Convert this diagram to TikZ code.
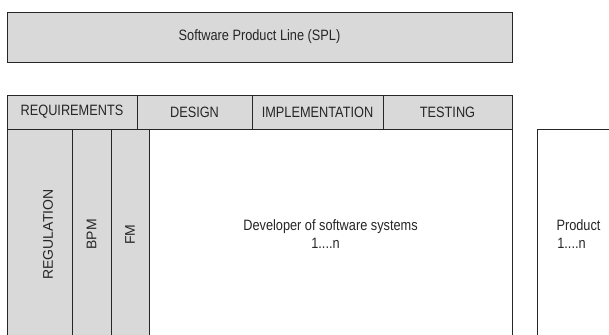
\documentclass[tikz,border=0pt]{standalone}
\usepackage{fontspec}
\setmainfont{Liberation Sans}
\newfontfamily\narrowfont[FakeStretch=0.85]{Liberation Sans}
\usetikzlibrary{positioning}
\definecolor{cellgray}{HTML}{D9D9D9}
\definecolor{edgegray}{HTML}{262626}
\tikzset{
    cell/.style = {draw = edgegray, line width = 0.8pt, fill = cellgray, inner sep = 0pt, outer sep = 0pt,
                   font = \narrowfont\fontsize{15}{18}\selectfont, text = black!85, align = center},
    plaincell/.style = {cell, fill = white},
    upright/.style = {rotate = 90, inner sep = 0pt, font = \fontsize{14}{17}\selectfont, text = black!85}
}

\begin{document}
\begin{tikzpicture}[x = 1pt, y = -1pt]
    \clip (0,0) rectangle (609,334);
    \fill [white] (0,0) rectangle (609,334);
    % top bar
    \node [cell, minimum width = 505pt, minimum height = 50pt] (spl) at (259.5,37) {Software Product Line (SPL)};
    % phases
    \node [cell, minimum width = 130pt, minimum height = 34pt] (req) at (72,112) {REQUIREMENTS};
    \node [cell, minimum width = 115pt, minimum height = 34pt, right = 0pt of req] (des) {DESIGN};
    \node [cell, minimum width = 131pt, minimum height = 34pt, right = 0pt of des] (imp) {IMPLEMENTATION};
    \node [cell, minimum width = 129pt, minimum height = 34pt, right = 0pt of imp] (tst) {TESTING};
    % columns below the phases
    \node [cell, minimum width = 65pt, minimum height = 211pt, anchor = north west] (reg) at (req.south west) {};
    \node [cell, minimum width = 39pt, minimum height = 211pt, right = 0pt of reg] (bpm) {};
    \node [cell, minimum width = 38pt, minimum height = 211pt, right = 0pt of bpm] (fm) {};
    \node [plaincell, minimum width = 363pt, minimum height = 211pt, right = 0pt of fm] (dev) {Developer of software systems\\1....n\hspace*{10pt}};
    \node [upright] (regtext) at ([xshift = 8.5pt]reg.center) {REGULATION};
    \node [upright] (bpmtext) at (bpm.center) {BPM};
    \node [upright] (fmtext) at (fm.center) {FM};
    % product
    \node [plaincell, minimum width = 83pt, minimum height = 211pt, anchor = north west] (prd) at (537,129) {Product\\1....n\hspace*{14pt}};
\end{tikzpicture}
\end{document}
